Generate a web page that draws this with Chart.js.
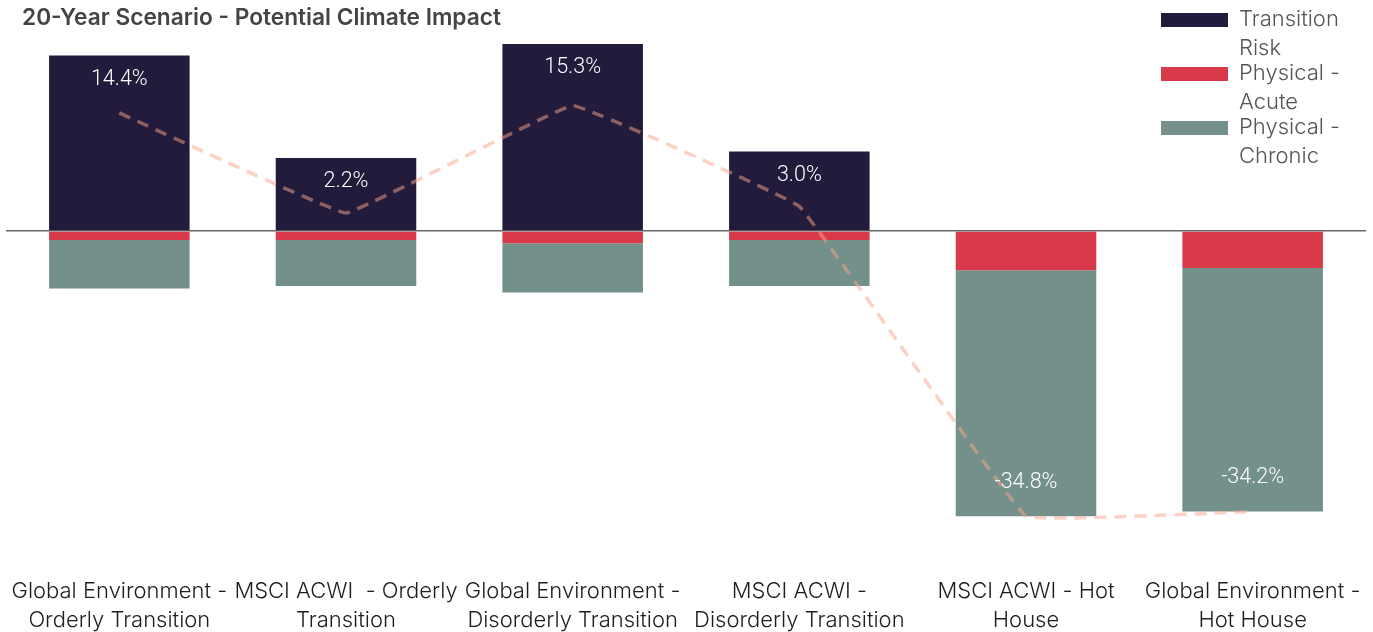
<!DOCTYPE html>
<html>
<head>
<meta charset="utf-8">
<script src="https://cdn.jsdelivr.net/npm/chart.js@4.4.1/dist/chart.umd.min.js"></script>
<style>
    html, body { margin: 0; padding: 0; background: #fff; }
    #wrap { position: relative; width: 1373px; height: 632px; }
    #title {
        position: absolute; left: 22px; top: 3px;
        font-family: Inter, sans-serif; font-weight: 600; font-size: 22.7px; color: #444;
    }
    #legend { position: absolute; left: 1161px; top: 4px; font-family: Inter, sans-serif; font-weight: 300; font-size: 22px; color: #555; }
    .item { position: absolute; left: 0; width: 210px; }
    .item .box { position: absolute; left: 0; top: 9px; width: 67px; height: 14px; }
    .item .txt { position: absolute; left: 78px; top: 0; line-height: 29px; }
</style>
</head>
<body>
<div id="wrap">
    <canvas id="chart" width="1373" height="632"></canvas>
    <div id="title">20-Year Scenario - Potential Climate Impact</div>
    <div id="legend"></div>
</div>
<script>
const categories = [
    ['Global Environment -', 'Orderly Transition'],
    ['MSCI ACWI  - Orderly', 'Transition'],
    ['Global Environment -', 'Disorderly Transition'],
    ['MSCI ACWI -', 'Disorderly Transition'],
    ['MSCI ACWI - Hot', 'House'],
    ['Global Environment -', 'Hot House']
];
const seriesNames = [['Transition', 'Risk'], ['Physical -', 'Acute'], ['Physical -', 'Chronic']];
const transitionRisk = [21.4, 8.9, 22.8, 9.7, 0, 0];
const physicalAcute = [-1.1, -1.1, -1.5, -1.1, -4.8, -4.5];
const physicalChronic = [-5.9, -5.6, -6.0, -5.6, -30.0, -29.7];
const totalImpact = [14.4, 2.2, 15.3, 3.0, -34.8, -34.2];
const colors = ['#221b3c', '#d93a4a', '#74908a'];

// legend as plain html, top right
const legendDiv = document.getElementById('legend');
seriesNames.forEach((name, i) => {
    const item = document.createElement('div');
    item.className = 'item';
    item.style.top = (i * 54) + 'px';
    item.innerHTML = `<div class="box" style="background:${colors[i]}"></div><div class="txt">${name.join('<br>')}</div>`;
    legendDiv.appendChild(item);
});

// white % labels inside the bars
const totalLabels = {
    id: 'totalLabels',
    afterDatasetsDraw(chart) {
        const { ctx } = chart;
        const y = chart.scales.y;
        const x = chart.scales.x;
        ctx.save();
        ctx.font = '300 21.5px Roboto, sans-serif';
        ctx.fillStyle = '#ffffff';
        ctx.textAlign = 'center';
        ctx.textBaseline = 'middle';
        totalImpact.forEach((v, i) => {
            const cx = x.getPixelForValue(i);
            let cy;
            if (v >= 0) {
                cy = y.getPixelForValue(transitionRisk[i]) + 24;
            } else {
                cy = y.getPixelForValue(physicalAcute[i] + physicalChronic[i]) - 34;
            }
            ctx.fillText(v.toFixed(1) + '%', cx, cy);
        });
        ctx.restore();
    }
};

new Chart(document.getElementById('chart'), {
    data: {
        labels: categories,
        datasets: [
            {
                type: 'line',
                label: 'Total',
                data: totalImpact,
                stack: 'total',
                borderColor: 'rgba(247,165,140,0.5)',
                borderWidth: 3.5,
                borderDash: [12, 8],
                pointRadius: 0,
                tension: 0.05,
                fill: false,
                order: 0
            },
            { type: 'bar', label: 'Transition Risk', data: transitionRisk, backgroundColor: colors[0], stack: 'impact', order: 1 },
            { type: 'bar', label: 'Physical - Acute', data: physicalAcute, backgroundColor: colors[1], stack: 'impact', order: 1 },
            { type: 'bar', label: 'Physical - Chronic', data: physicalChronic, backgroundColor: colors[2], stack: 'impact', order: 1 }
        ]
    },
    options: {
        responsive: false,
        animation: false,
        layout: { padding: { left: 6, right: 7, top: 26, bottom: 0 } },
        datasets: { bar: { barPercentage: 0.62, categoryPercentage: 1 } },
        plugins: {
            legend: { display: false },
            title: { display: false },
            tooltip: { enabled: false }
        },
        scales: {
            x: {
                stacked: true,
                grid: { display: false },
                border: { display: false },
                afterFit: scale => { scale.height = 73; },
                ticks: {
                    color: '#1e1e1e',
                    font: { family: 'Inter', weight: 300, size: 22, lineHeight: 1.36 },
                    padding: 9,
                    maxRotation: 0,
                    autoSkip: false
                }
            },
            y: {
                stacked: true,
                min: -40,
                max: 25,
                z: 1,
                border: { display: false },
                ticks: { display: false, stepSize: 5 },
                grid: {
                    drawTicks: false,
                    lineWidth: 1.5,
                    color: c => c.tick.value === 0 ? '#666' : 'rgba(0,0,0,0)'
                }
            }
        }
    },
    plugins: [totalLabels]
});
</script>
</body>
</html>
